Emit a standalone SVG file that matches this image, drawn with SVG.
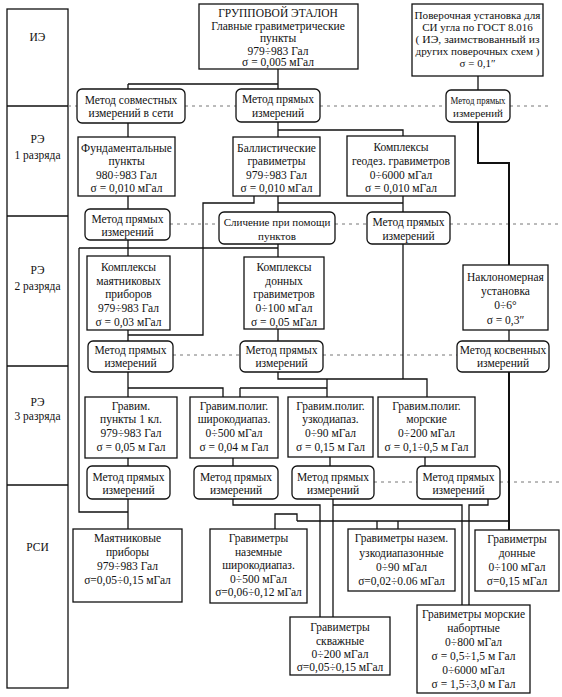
<svg xmlns="http://www.w3.org/2000/svg" width="562" height="697" viewBox="0 0 562 697">
<style>
.box{fill:#fff;stroke:#111;stroke-width:1.3}
.t{font-family:"Liberation Serif","Times New Roman",serif;font-size:11.5px;fill:#111;text-anchor:middle}
.s{font-size:11px}
.c{fill:none;stroke:#111;stroke-width:1.3}
.ck{fill:none;stroke:#111;stroke-width:2}
.d{fill:none;stroke:#777;stroke-width:1;stroke-dasharray:3 4}
</style>
<rect x="0" y="0" width="562" height="697" fill="#fff"/>

<g id="levels">
<rect class="box" x="7" y="9" width="61" height="679"/>
<path class="c" d="M7,106 H68 M7,216 H68 M7,366 H68 M7,485 H68"/>
<text class="t" x="37.5" y="41">ИЭ</text>
<text class="t" x="37.5" y="143">РЭ<tspan x="37.5" y="159">1 разряда</tspan></text>
<text class="t" x="37.5" y="274">РЭ<tspan x="37.5" y="290">2 разряда</tspan></text>
<text class="t" x="37.5" y="406">РЭ<tspan x="37.5" y="420">3 разряда</tspan></text>
<text class="t" x="37.5" y="551">РСИ</text>
</g>

<g id="dividers">
<path class="d" d="M68,106 H77 M185,106 H236 M320,106 H446 M510,106 H548"/>
<path class="d" d="M170,224 H219 M335,224 H367 M450,224 H560"/>
<path class="d" d="M173,355 H240 M323,355 H457"/>
<path class="d" d="M374,482 H417 M500,482 H560"/>
</g>

<g id="connectors">
<path class="c" d="M278,69 V89 M128,84 H278 M128,84 V89"/>
<path class="c" d="M478,76 V90"/>
<path class="ck" d="M478,122 V163 H509 V265"/>
<path class="c" d="M128,123 V137 M278,122 V137 M278,130 H403 V136"/>
<path class="c" d="M128,196 V209 M128,240 V256"/>
<path class="c" d="M79,248 H278 M79,248 V512 H128"/>
<path class="c" d="M278,196 V212 M278,203 H403"/>
<path class="c" d="M254,196 V203 H203 V335 H128"/>
<path class="c" d="M403,196 V212 M403,244 V379"/>
<path class="c" d="M278,244 V257"/>
<path class="c" d="M128,330 V341 M278,329 V341 M509,330 V341"/>
<path class="ck" d="M509,371 V530"/>
<path class="c" d="M128,372 V397 M128,388 H223 V397"/>
<path class="c" d="M278,372 V379 H427 V397"/>
<path class="c" d="M327,379 V397 M240,388 H327 M240,388 V397"/>
<path class="c" d="M128,458 V466 M233,458 V466 M330,457 V466 M425,457 V466"/>
<path class="c" d="M128,499 V529"/>
<path class="c" d="M233,499 V505 H320 V617"/>
<path class="c" d="M333,499 V617 M333,505 H462 V605"/>
<path class="c" d="M488,499 V505 H469 V605"/>
<path class="c" d="M297,521 H509 M275,529 V514 H297 V521"/>
<path class="c" d="M377,521 V529 M398,521 V529"/>
</g>

<g id="n-gruppovoy">
<rect class="box" x="199" y="4" width="159" height="65"/>
<text class="t" x="278" y="17">ГРУППОВОЙ ЭТАЛОН<tspan x="278" y="29.5">Главные гравиметрические</tspan><tspan x="278" y="42">пункты</tspan><tspan x="278" y="54.5">979÷983 Гал</tspan><tspan x="278" y="66">σ = 0,005 мГал</tspan></text>
</g>

<g id="n-poverochnaya">
<rect class="box" x="412" y="4" width="131" height="72"/>
<text class="t s" x="477.5" y="19"><tspan textLength="126" lengthAdjust="spacingAndGlyphs">Поверочная установка для</tspan><tspan x="477.5" y="31">СИ угла по ГОСТ 8.016</tspan><tspan x="477.5" y="43" textLength="124" lengthAdjust="spacingAndGlyphs">( ИЭ, заимствованный из</tspan><tspan x="477.5" y="55" textLength="124" lengthAdjust="spacingAndGlyphs">других поверочных схем )</tspan><tspan x="477.5" y="67">σ = 0,1″</tspan></text>
</g>

<g id="m-sovm">
<rect class="box" x="77" y="89" width="108" height="34" rx="5"/>
<text class="t" x="131" y="103.5">Метод совместных<tspan x="131" y="117">измерений в сети</tspan></text>
</g>

<g id="m-pr-1">
<rect class="box" x="236" y="89" width="84" height="33" rx="5"/>
<text class="t" x="278" y="103">Метод прямых<tspan x="278" y="116.5">измерений</tspan></text>
</g>

<g id="m-pr-r1">
<rect class="box" x="446" y="90" width="64" height="32" rx="5"/>
<text class="t s" x="478" y="103.5"><tspan textLength="55" lengthAdjust="spacingAndGlyphs">Метод прямых</tspan><tspan x="478" y="117">измерений</tspan></text>
</g>

<g id="n-fund">
<rect class="box" x="78" y="137" width="97" height="59"/>
<text class="t" x="126.5" y="151.5">Фундаментальные<tspan x="126.5" y="165">пункты</tspan><tspan x="126.5" y="178.5">980÷983 Гал</tspan><tspan x="126.5" y="192">σ = 0,010 мГал</tspan></text>
</g>

<g id="n-ball">
<rect class="box" x="233" y="137" width="87" height="59"/>
<text class="t" x="276.5" y="151.5">Баллистические<tspan x="276.5" y="165">гравиметры</tspan><tspan x="276.5" y="178.5">979÷983 Гал</tspan><tspan x="276.5" y="192">σ = 0,010 мГал</tspan></text>
</g>

<g id="n-geod">
<rect class="box" x="347" y="136" width="108" height="60"/>
<text class="t" x="401" y="151">Комплексы<tspan x="401" y="165">геодез. гравиметров</tspan><tspan x="401" y="178.5">0÷6000 мГал</tspan><tspan x="401" y="192">σ = 0,010 мГал</tspan></text>
</g>

<g id="m-pr-l2">
<rect class="box" x="85" y="209" width="85" height="31" rx="5"/>
<text class="t" x="127.5" y="223">Метод прямых<tspan x="127.5" y="236">измерений</tspan></text>
</g>

<g id="m-slich">
<rect class="box" x="219" y="212" width="116" height="32" rx="5"/>
<text class="t s" x="277" y="226">Сличение при помощи<tspan x="277" y="239.5">пунктов</tspan></text>
</g>

<g id="m-pr-r2">
<rect class="box" x="367" y="212" width="83" height="32" rx="5"/>
<text class="t" x="408.5" y="226">Метод прямых<tspan x="408.5" y="239.5">измерений</tspan></text>
</g>

<g id="n-mayat">
<rect class="box" x="87" y="256" width="83" height="74"/>
<text class="t" x="128.5" y="271">Комплексы<tspan x="128.5" y="284.5">маятниковых</tspan><tspan x="128.5" y="298">приборов</tspan><tspan x="128.5" y="312">979÷983 Гал</tspan><tspan x="128.5" y="326">σ = 0,03 мГал</tspan></text>
</g>

<g id="n-donn-kompl">
<rect class="box" x="244" y="257" width="80" height="72"/>
<text class="t" x="284" y="271">Комплексы<tspan x="284" y="284.5">донных</tspan><tspan x="284" y="298">гравиметров</tspan><tspan x="284" y="312">0÷100 мГал</tspan><tspan x="284" y="325.5">σ = 0,05 мГал</tspan></text>
</g>

<g id="n-naklon">
<rect class="box" x="463" y="265" width="85" height="65"/>
<text class="t" x="505.5" y="281">Наклономерная<tspan x="505.5" y="295">установка</tspan><tspan x="505.5" y="309">0÷6°</tspan><tspan x="505.5" y="324">σ = 0,3″</tspan></text>
</g>

<g id="m-pr-l3">
<rect class="box" x="88" y="341" width="85" height="31" rx="5"/>
<text class="t" x="130.5" y="353.5">Метод прямых<tspan x="130.5" y="367">измерений</tspan></text>
</g>

<g id="m-pr-c3">
<rect class="box" x="240" y="341" width="83" height="31" rx="5"/>
<text class="t" x="281.5" y="353.5">Метод прямых<tspan x="281.5" y="367">измерений</tspan></text>
</g>

<g id="m-kosv">
<rect class="box" x="457" y="341" width="92" height="31" rx="5"/>
<text class="t" x="503" y="353.5">Метод косвенных<tspan x="503" y="367">измерений</tspan></text>
</g>

<g id="n-punkty">
<rect class="box" x="85" y="397" width="92" height="61"/>
<text class="t" x="131" y="409.5">Гравим.<tspan x="131" y="423">пункты 1 кл.</tspan><tspan x="131" y="437">979÷983 Гал</tspan><tspan x="131" y="451">σ = 0,05 м Гал</tspan></text>
</g>

<g id="n-shirok">
<rect class="box" x="190" y="397" width="88" height="61"/>
<text class="t" x="234" y="409.5">Гравим.полиг.<tspan x="234" y="423">широкодиапаз.</tspan><tspan x="234" y="437">0÷500 мГал</tspan><tspan x="234" y="451">σ = 0,04 м Гал</tspan></text>
</g>

<g id="n-uzko">
<rect class="box" x="288" y="397" width="85" height="60"/>
<text class="t" x="330.5" y="409.5">Гравим.полиг.<tspan x="330.5" y="423">узкодиапаз.</tspan><tspan x="330.5" y="437">0÷90 мГал</tspan><tspan x="330.5" y="451">σ = 0,15 м Гал</tspan></text>
</g>

<g id="n-morsk">
<rect class="box" x="378" y="397" width="97" height="60"/>
<text class="t" x="426.5" y="409.5">Гравим.полиг.<tspan x="426.5" y="423">морские</tspan><tspan x="426.5" y="437">0÷200 мГал</tspan><tspan x="426.5" y="451">σ = 0,1÷0,5 м Гал</tspan></text>
</g>

<g id="m-pr-a">
<rect class="box" x="87" y="466" width="83" height="33" rx="5"/>
<text class="t" x="128.5" y="480.5">Метод прямых<tspan x="128.5" y="494">измерений</tspan></text>
</g>

<g id="m-pr-b">
<rect class="box" x="194" y="466" width="84" height="33" rx="5"/>
<text class="t" x="236" y="480.5">Метод прямых<tspan x="236" y="494">измерений</tspan></text>
</g>

<g id="m-pr-c">
<rect class="box" x="292" y="466" width="82" height="33" rx="5"/>
<text class="t" x="333" y="480.5">Метод прямых<tspan x="333" y="494">измерений</tspan></text>
</g>

<g id="m-pr-d">
<rect class="box" x="417" y="466" width="83" height="33" rx="5"/>
<text class="t" x="458.5" y="480.5">Метод прямых<tspan x="458.5" y="494">измерений</tspan></text>
</g>

<g id="n-mayat-prib">
<rect class="box" x="73" y="529" width="109" height="73"/>
<text class="t" x="127.5" y="542">Маятниковые<tspan x="127.5" y="556">приборы</tspan><tspan x="127.5" y="569.5">979÷983 Гал</tspan><tspan x="127.5" y="583.5">σ=0,05÷0,15 мГал</tspan></text>
</g>

<g id="n-nazem-shirok">
<rect class="box" x="210" y="529" width="97" height="74"/>
<text class="t" x="258.5" y="542">Гравиметры<tspan x="258.5" y="555.5">наземные</tspan><tspan x="258.5" y="569">широкодиапаз.</tspan><tspan x="258.5" y="582.5">0÷500 мГал</tspan><tspan x="258.5" y="596">σ=0,06÷0,12 мГал</tspan></text>
</g>

<g id="n-nazem-uzko">
<rect class="box" x="348" y="529" width="107" height="62"/>
<text class="t" x="401.5" y="542">Гравиметры назем.<tspan x="401.5" y="556.5">узкодиапазонные</tspan><tspan x="401.5" y="571">0÷90 мГал</tspan><tspan x="401.5" y="585">σ=0,02÷0.06 мГал</tspan></text>
</g>

<g id="n-donn">
<rect class="box" x="475" y="530" width="84" height="61"/>
<text class="t" x="517" y="543">Гравиметры<tspan x="517" y="557">донные</tspan><tspan x="517" y="571">0÷100 мГал</tspan><tspan x="517" y="585">σ=0,15 мГал</tspan></text>
</g>

<g id="n-skvazh">
<rect class="box" x="290" y="617" width="100" height="58"/>
<text class="t" x="340" y="631">Гравиметры<tspan x="340" y="644.5">скважные</tspan><tspan x="340" y="658">0÷200 мГал</tspan><tspan x="340" y="671">σ=0,05÷0,15 мГал</tspan></text>
</g>

<g id="n-morsk-nab">
<rect class="box" x="417" y="605" width="113" height="88"/>
<text class="t" x="473.5" y="618">Гравиметры морские<tspan x="473.5" y="632">набортные</tspan><tspan x="473.5" y="646">0÷800 мГал</tspan><tspan x="473.5" y="660">σ = 0,5÷1,5 м Гал</tspan><tspan x="473.5" y="674">0÷6000 мГал</tspan><tspan x="473.5" y="688">σ = 1,5÷3,0 м Гал</tspan></text>
</g>
</svg>
